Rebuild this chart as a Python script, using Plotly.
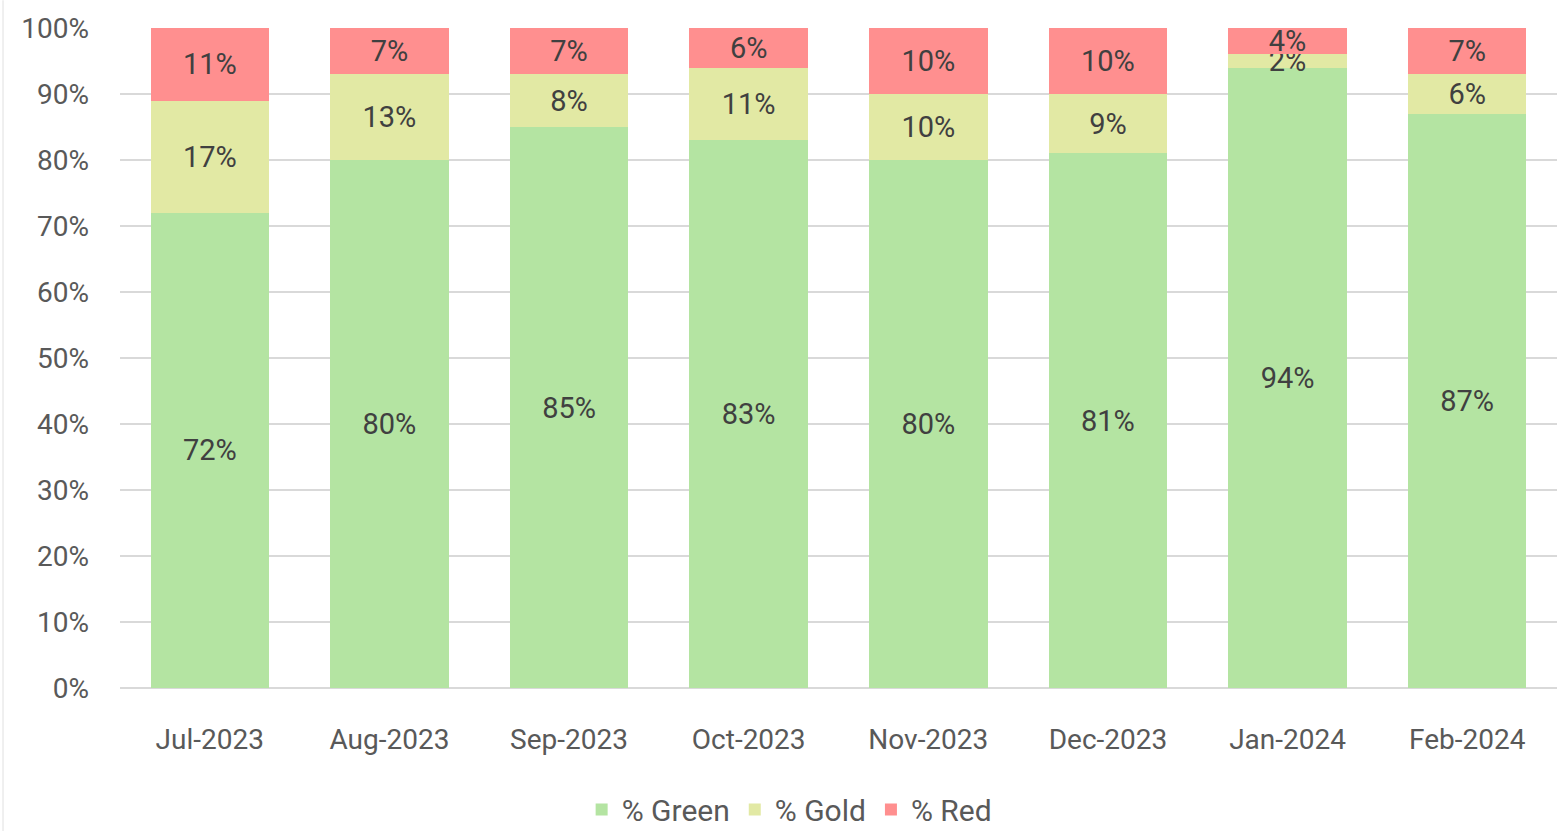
import plotly.graph_objects as go

months = ["Jul-2023", "Aug-2023", "Sep-2023", "Oct-2023", "Nov-2023", "Dec-2023", "Jan-2024", "Feb-2024"]
green = [72, 80, 85, 83, 80, 81, 94, 87]
gold = [17, 13, 8, 11, 10, 9, 2, 6]
red = [11, 7, 7, 6, 10, 10, 4, 7]
y_ticks = [0, 10, 20, 30, 40, 50, 60, 70, 80, 90, 100]

FONT = "Roboto, Liberation Sans, Arial, sans-serif"
FS = 28
series = [("% Green", green, "#B4E4A2"), ("% Gold", gold, "#E2E9A4"), ("% Red", red, "#FF8F8F")]

fig = go.Figure()
for name, vals, color in series:
    fig.add_trace(go.Bar(
        x=months, y=vals, name=name, marker=dict(color=color, line=dict(width=0)),
        text=[f"{v}%" for v in vals], textposition="inside", insidetextanchor="middle",
        textfont=dict(family=FONT, size=FS + 1, color="#404040"), constraintext="none",
        hoverinfo="skip",
    ))

fig.update_layout(
    barmode="stack", bargap=0.34,
    width=1563, height=831,
    margin=dict(l=120, r=6, t=28, b=143, autoexpand=False),
    paper_bgcolor="white", plot_bgcolor="white",
    font=dict(family=FONT, size=FS, color="#595959"),
    uniformtext=dict(minsize=FS + 1, mode="show"),
    showlegend=True,
    legend=dict(orientation="h", x=0.466, xanchor="center", y=-0.184, yanchor="middle",
                font=dict(family=FONT, size=30, color="#595959"), itemwidth=30,
                traceorder="normal"),
    xaxis=dict(showgrid=False, showline=False, ticks="", tickfont=dict(size=FS, color="#595959"),
               ticklabelstandoff=32),
    yaxis=dict(range=[0, 100], tickvals=y_ticks, ticktext=[f"{v}%" for v in y_ticks],
               showgrid=True, gridcolor="#D9D9D9", gridwidth=2, zeroline=True, zerolinecolor="#D9D9D9",
               zerolinewidth=2, ticks="", tickfont=dict(size=FS, color="#595959"), ticklabelstandoff=30),
)
fig.add_shape(type="line", xref="paper", yref="paper", x0=-0.0814, x1=-0.0814, y0=-0.2167, y1=1.042,
              line=dict(color="#E0E0E0", width=1))
fig.write_html("out.html", config={"displayModeBar": False},
               post_script="document.body.style.margin='0';")
